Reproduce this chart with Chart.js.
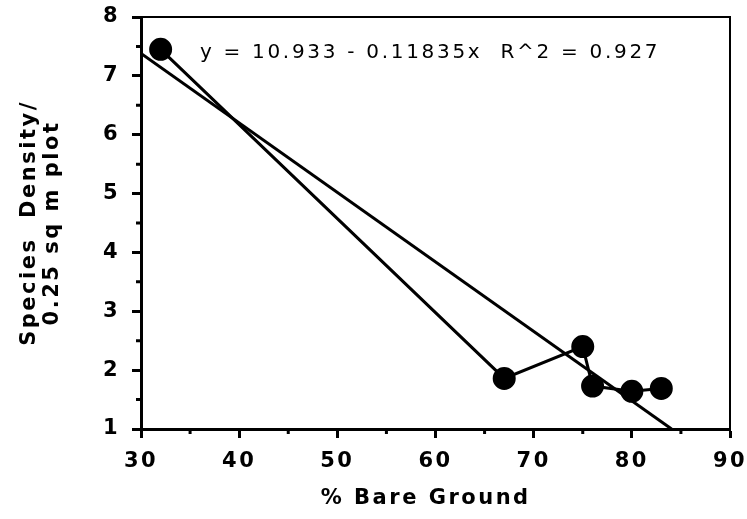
<!DOCTYPE html>
<html>
<head>
<meta charset="utf-8">
<script src="https://cdn.jsdelivr.net/npm/chart.js@4/dist/chart.umd.min.js"></script>
<style>
  html, body { margin: 0; padding: 0; background: #fff; }
  #wrap { width: 747px; height: 519px; }
</style>
</head>
<body>
<div id="wrap"><canvas id="speciesChart"></canvas></div>
<script>
// values
const bareGround = [32, 67, 75, 76, 80, 83];
const speciesDensity = [7.45, 1.86, 2.40, 1.73, 1.64, 1.69];
const fitX = [30, 84.05];
const fitY = [7.38, 1.0];
const equationText = 'y = 10.933 - 0.11835x  R^2 = 0.927';
const xTitle = '% Bare Ground  ';
const yTitle = ['Species  Density/', '0.25 sq m plot'];

const ink = '#000';
const font = 'DejaVu Sans, Verdana, sans-serif';

// the old Mac-style labels are spaced out
const spacing = {
  id: 'spacing',
  beforeLayout(chart) { chart.ctx.letterSpacing = '2.5px'; },
  beforeDraw(chart) { chart.ctx.letterSpacing = '2.5px'; }
};

// short minor ticks halfway between the labelled ones + top/right frame + equation
const decorations = {
  id: 'decorations',
  afterDraw(chart) {
    const { ctx, chartArea: a, scales: { x, y } } = chart;
    ctx.save();
    ctx.strokeStyle = ink;
    ctx.lineWidth = 2;
    ctx.beginPath();
    ctx.moveTo(a.left, a.top);
    ctx.lineTo(a.right, a.top);
    ctx.lineTo(a.right, a.bottom);
    ctx.stroke();

    ctx.lineWidth = 3;
    ctx.beginPath();
    for (let v = 35; v < 90; v += 10) {
      const px = x.getPixelForValue(v);
      ctx.moveTo(px, a.bottom);
      ctx.lineTo(px, a.bottom + 5);
    }
    for (let v = 1.5; v < 8; v += 1) {
      const py = y.getPixelForValue(v);
      ctx.moveTo(a.left, py);
      ctx.lineTo(a.left - 5, py);
    }
    ctx.stroke();

    ctx.fillStyle = ink;
    ctx.letterSpacing = '2.7px';
    ctx.font = '20px ' + font;
    ctx.textBaseline = 'middle';
    ctx.fillText(equationText, x.getPixelForValue(36.0), y.getPixelForValue(7.40));
    ctx.restore();
  }
};

new Chart(document.getElementById('speciesChart'), {
  type: 'scatter',
  data: {
    datasets: [{
      label: 'observed',
      data: bareGround.map((v, i) => ({ x: v, y: speciesDensity[i] })),
      showLine: true,
      borderColor: ink,
      borderWidth: 3,
      backgroundColor: ink,
      pointRadius: 10,
      pointHoverRadius: 10,
      tension: 0
    }, {
      label: 'fit',
      data: fitX.map((v, i) => ({ x: v, y: fitY[i] })),
      showLine: true,
      borderColor: ink,
      borderWidth: 3,
      pointRadius: 0,
      tension: 0
    }]
  },
  options: {
    responsive: true,
    maintainAspectRatio: false,
    animation: false,
    layout: { padding: { top: 17, right: 17, left: 0, bottom: 0 } },
    plugins: {
      legend: { display: false },
      tooltip: { enabled: false }
    },
    scales: {
      x: {
        type: 'linear',
        min: 30,
        max: 90,
        ticks: {
          stepSize: 10,
          color: ink,
          padding: 11,
          font: { family: font, size: 21, weight: 'bold' }
        },
        grid: { drawOnChartArea: false, tickLength: 9, tickWidth: 3, tickColor: ink },
        border: { color: ink, width: 3 },
        title: {
          display: true,
          text: xTitle,
          color: ink,
          padding: { top: 0, bottom: 8 },
          font: { family: font, size: 21, weight: 'bold' }
        },
        afterFit(scale) { scale.height = 90; scale.paddingLeft = 0; scale.paddingRight = 0; }
      },
      y: {
        type: 'linear',
        min: 1,
        max: 8,
        ticks: {
          stepSize: 1,
          color: ink,
          padding: 12,
          font: { family: font, size: 21, weight: 'bold' }
        },
        grid: { drawOnChartArea: false, tickLength: 9, tickWidth: 3, tickColor: ink },
        border: { color: ink, width: 3 },
        title: {
          display: true,
          text: yTitle,
          color: ink,
          padding: { top: 19, bottom: 0 },
          font: { family: font, size: 21, weight: 'bold', lineHeight: 1.05 }
        },
        afterFit(scale) { scale.width = 141; scale.paddingTop = 0; scale.paddingBottom = 0; }
      }
    }
  },
  plugins: [spacing, decorations]
});
</script>
</body>
</html>
